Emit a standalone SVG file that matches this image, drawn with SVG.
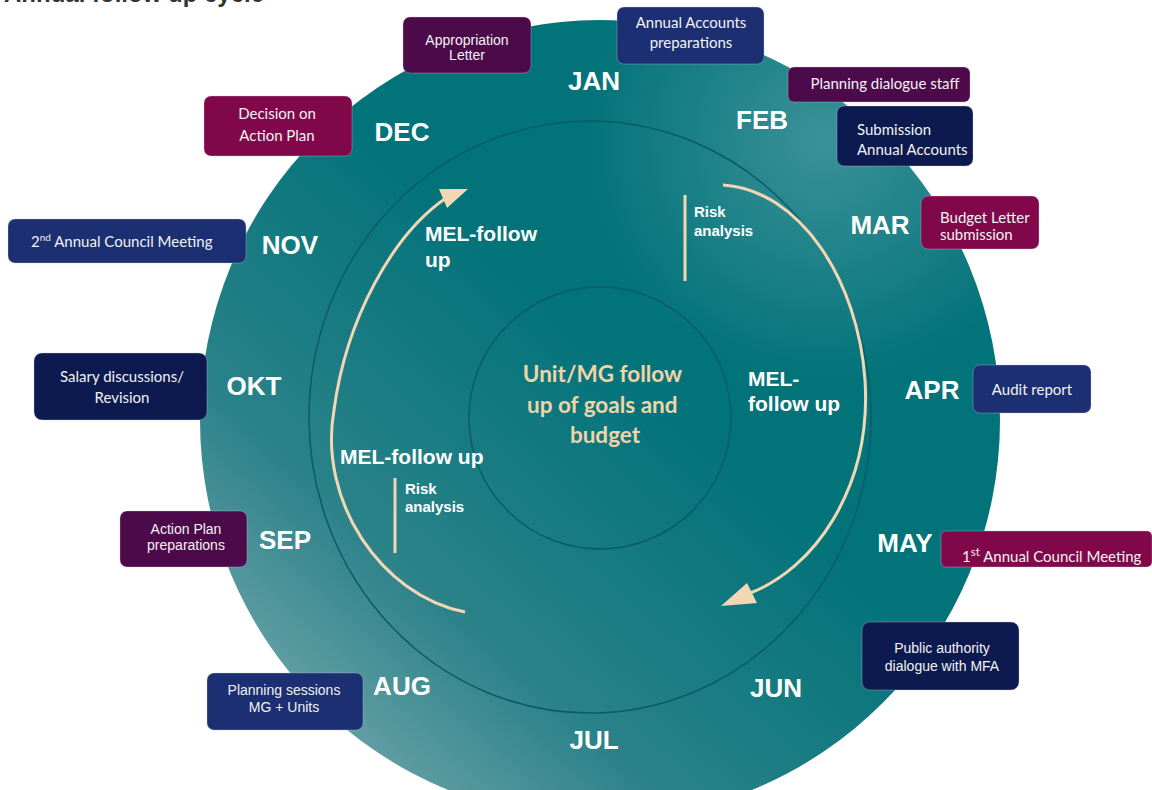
<svg xmlns="http://www.w3.org/2000/svg" width="1152" height="790" viewBox="0 0 1152 790">
<defs>
<linearGradient id="gBase" x1="0.1" y1="0.95" x2="0.55" y2="0.45">
<stop offset="0" stop-color="#7aabb0"/>
<stop offset="0.45" stop-color="#2b8289"/>
<stop offset="1" stop-color="#03737a"/>
</linearGradient>
<radialGradient id="gHi" cx="0.78" cy="0.15" r="0.3">
<stop offset="0" stop-color="#ffffff" stop-opacity="0.22"/>
<stop offset="1" stop-color="#ffffff" stop-opacity="0"/>
</radialGradient>
<style>
.box{stroke:#c8c8d8;stroke-opacity:0.35;stroke-width:1}
.p{fill:#4d0a4b}.c{fill:#80084a}.n{fill:#1b2f72}.d{fill:#0c1a4f}
.ring{fill:none;stroke:#0a5c66;stroke-width:1.5}
.mon{font-family:"Liberation Sans",Arial,sans-serif;font-weight:bold;font-size:26px;fill:#ffffff;text-anchor:middle}
.mel{font-family:"Liberation Sans",Arial,sans-serif;font-weight:bold;font-size:21px;fill:#ffffff}
.risk{font-family:"Liberation Sans",Arial,sans-serif;font-weight:bold;font-size:15px;fill:#ffffff}
.ta{font-family:"Liberation Sans",Arial,sans-serif;font-size:14px;fill:#f2f2f2}
.tc{font-family:Lato,"Noto Sans",sans-serif;font-size:15px;fill:#f2f2f2}
.mid{text-anchor:middle}
.arc{fill:none;stroke:#f3d6b4;stroke-width:3}
.head{fill:#f3d6b4}
</style>
</defs>
<text x="4" y="2" font-family="'Liberation Sans',Arial,sans-serif" font-weight="bold" font-size="24" fill="#333333">Annual follow up cycle</text>
<g id="wheel">
<circle cx="600" cy="420" r="400" fill="url(#gBase)"/>
<circle cx="600" cy="420" r="400" fill="url(#gHi)"/>
<ellipse cx="590" cy="417" rx="281" ry="296" class="ring"/>
<circle cx="600" cy="418" r="131" class="ring"/>
</g>
<g id="months">
<text x="594" y="90" class="mon">JAN</text>
<text x="762" y="129" class="mon">FEB</text>
<text x="880" y="234" class="mon">MAR</text>
<text x="932" y="399" class="mon">APR</text>
<text x="905" y="552" class="mon">MAY</text>
<text x="776" y="697" class="mon">JUN</text>
<text x="594" y="749" class="mon">JUL</text>
<text x="402" y="695" class="mon">AUG</text>
<text x="285" y="549" class="mon">SEP</text>
<text x="254" y="395" class="mon">OKT</text>
<text x="290" y="254" class="mon">NOV</text>
<text x="402" y="141" class="mon">DEC</text>
</g>
<g id="connectors">
<path class="arc" d="M465,612 C380,595 318,500 334,410 C346,320 392,235 446,198"/>
<polygon class="head" points="468,189 439,189 447,208"/>
<path class="arc" d="M723,185 C800,190 858,280 865,380 C872,490 812,570 750,593"/>
<polygon class="head" points="721,606 747,583 757,603"/>
<line x1="685" y1="195" x2="685" y2="281" stroke="#f3d6b4" stroke-width="3"/>
<line x1="395" y1="478" x2="395" y2="553" stroke="#f3d6b4" stroke-width="3"/>
</g>
<g id="center">
<text font-family="Lato,'Noto Sans',sans-serif" font-weight="bold" font-size="22.5" fill="#f1d3a8" text-anchor="middle">
<tspan x="605" y="382">Unit/MG follow</tspan>
<tspan x="605" y="413">up of goals and</tspan>
<tspan x="605" y="443">budget</tspan>
</text>
</g>
<g id="labels">
<text class="mel"><tspan x="425" y="241">MEL-follow</tspan><tspan x="425" y="267">up</tspan></text>
<text class="mel"><tspan x="748" y="386">MEL-</tspan><tspan x="748" y="411">follow up</tspan></text>
<text class="mel" x="340" y="464">MEL-follow up</text>
<text class="risk"><tspan x="694" y="217">Risk</tspan><tspan x="694" y="236">analysis</tspan></text>
<text class="risk"><tspan x="405" y="494">Risk</tspan><tspan x="405" y="512">analysis</tspan></text>
</g>
<g id="n-appropriation">
<rect class="box p" x="403" y="17" width="128" height="56" rx="7"/>
<text class="ta mid" font-size="16.5"><tspan x="467" y="45">Appropriation</tspan><tspan x="467" y="60">Letter</tspan></text>
</g>
<g id="n-annual-accounts">
<rect class="box n" x="617" y="7" width="147" height="57" rx="7"/>
<text class="tc mid"><tspan x="691" y="28">Annual Accounts</tspan><tspan x="691" y="48">preparations</tspan></text>
</g>
<g id="n-planning-dialogue">
<rect class="box p" x="788" y="67" width="182" height="35" rx="6"/>
<text class="tc mid" x="885" y="89">Planning dialogue staff</text>
</g>
<g id="n-submission">
<rect class="box d" x="837" y="106" width="136" height="60" rx="7"/>
<text class="tc"><tspan x="857" y="135">Submission</tspan><tspan x="857" y="155">Annual Accounts</tspan></text>
</g>
<g id="n-budget-letter">
<rect class="box c" x="921" y="196" width="118" height="53" rx="7"/>
<text class="tc"><tspan x="940" y="223">Budget Letter</tspan><tspan x="940" y="240">submission</tspan></text>
</g>
<g id="n-audit">
<rect class="box n" x="973" y="365" width="118" height="48" rx="7"/>
<text class="tc mid" x="1032" y="395">Audit report</text>
</g>
<g id="n-council-1">
<rect class="box c" x="941" y="531" width="211" height="36" rx="5"/>
<text class="tc" x="962" y="562" font-size="15.5">1<tspan dy="-6" font-size="11.5">st</tspan><tspan dy="6"> Annual Council Meeting</tspan></text>
</g>
<g id="n-public-authority">
<rect class="box d" x="862" y="622" width="157" height="68" rx="8"/>
<text class="ta mid"><tspan x="942" y="653">Public authority</tspan><tspan x="942" y="671">dialogue with MFA</tspan></text>
</g>
<g id="n-planning-sessions">
<rect class="box n" x="207" y="673" width="156" height="57" rx="7"/>
<text class="ta mid"><tspan x="284" y="695">Planning sessions</tspan><tspan x="284" y="712">MG + Units</tspan></text>
</g>
<g id="n-action-plan">
<rect class="box p" x="120" y="511" width="127" height="56" rx="7"/>
<text class="ta mid" font-size="14.5"><tspan x="186" y="534">Action Plan</tspan><tspan x="186" y="550">preparations</tspan></text>
</g>
<g id="n-salary">
<rect class="box d" x="34" y="353" width="173" height="67" rx="8"/>
<text class="tc mid"><tspan x="122" y="382">Salary discussions/</tspan><tspan x="122" y="403">Revision</tspan></text>
</g>
<g id="n-council-2">
<rect class="box n" x="8" y="219" width="238" height="44" rx="7"/>
<text class="tc" x="31" y="247">2<tspan dy="-6" font-size="10">nd</tspan><tspan dy="6"> Annual Council Meeting</tspan></text>
</g>
<g id="n-decision">
<rect class="box c" x="204" y="96" width="148" height="60" rx="7"/>
<text class="tc mid"><tspan x="277" y="119">Decision on</tspan><tspan x="277" y="141">Action Plan</tspan></text>
</g>
</svg>
